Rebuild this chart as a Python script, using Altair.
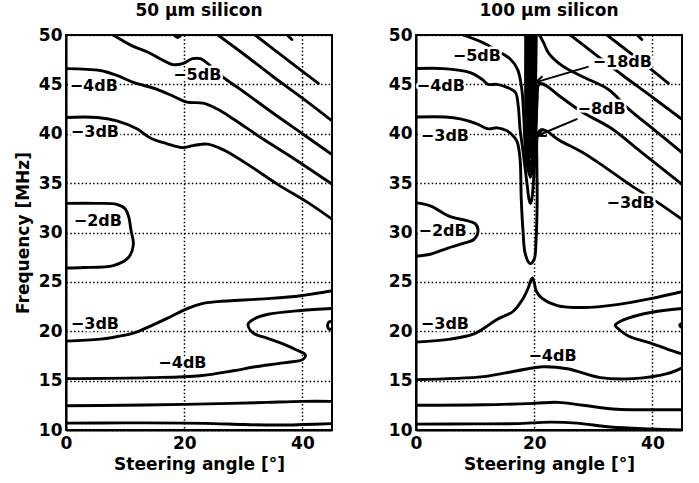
import math
import altair as alt
import pandas as pd

# Axes ranges and panel size (plot area only)
X_DOMAIN = [0, 45]
Y_DOMAIN = [10, 50]
PANEL_W, PANEL_H = 266, 395
X_TICKS = [0, 20, 40]
Y_TICKS = [10, 15, 20, 25, 30, 35, 40, 45, 50]
FONT = "DejaVu Sans"

# ---------------- 50 µm silicon: contour lines (angle [deg], frequency [MHz]) ----------------
s50_m2 = [(0, 32.95), (5, 32.95), (8.6, 32.85), (10.0, 32.4), (10.6, 31.6), (11.0, 30.2),
          (11.4, 28.8), (10.6, 27.5), (8.0, 26.65), (3.0, 26.45), (0, 26.4)]
s50_m3_hi = [(0, 41.65), (5.3, 41.65), (8.6, 41.3), (12, 40.5), (14.2, 39.6), (17, 39.0),
             (19.6, 38.6), (21.5, 38.8), (23.9, 38.95), (25.8, 38.6), (27.2, 38.2), (31, 36.8),
             (36, 34.8), (41, 33.0), (45, 31.35)]
s50_m4_hi = [(0, 46.6), (5.8, 46.4), (8.6, 45.9), (11.4, 45.2), (15.4, 44.5), (18.5, 43.7),
             (20.5, 43.2), (23.2, 43.1), (25.6, 42.5), (28.3, 41.5), (33, 39.6), (38, 37.7), (45, 34.9)]
s50_m5 = [(8, 50), (11.2, 48.9), (13.7, 48.3), (15.9, 47.6), (18.1, 47.0), (19.7, 47.1),
          (21.4, 47.6), (22.7, 47.6), (24.4, 46.9), (26.6, 45.7), (29.5, 44.5), (35, 42.1),
          (40, 40.0), (45, 37.9)]
s50_m6 = [(25.7, 50), (30, 48.1), (35, 45.8), (40, 43.6), (45, 41.3)]
s50_m7 = [(32.0, 50), (37.3, 47.55), (42.7, 45.1)]
s50_tip_a = [(18.3, 50), (18.9, 49.75), (19.5, 50)]
s50_tip_b = [(37.4, 50), (38.2, 49.55)]
s50_m3_lo = [(0, 19.0), (5.8, 19.2), (9, 19.5), (11.4, 19.8), (14.2, 20.5), (17.1, 21.3),
             (20.5, 22.3), (23, 22.8), (25.6, 23.0), (34, 23.3), (39.7, 23.6), (45, 24.1)]
s50_m4_lo = [(45, 22.3), (39.7, 22.1), (34, 21.7), (32, 21.3), (30.8, 20.7), (31.7, 19.8),
             (34, 19.3), (36.8, 18.7), (39, 18.1), (40.5, 17.6), (40.1, 17.15), (36.8, 16.8),
             (32, 16.4), (28.3, 16.0), (22.7, 15.5), (14.2, 15.3), (0, 15.2)]
s50_edge_loop = [(45, 21.0), (44.5, 20.95), (44.25, 20.6), (44.45, 20.25), (45, 20.2)]
s50_m5_lo = [(0, 12.45), (10, 12.5), (20, 12.6), (28, 12.7), (34, 12.8), (40, 12.9), (45, 12.9)]
s50_m6_lo = [(0, 10.7), (10, 10.72), (20, 10.7), (25, 10.65), (30, 10.55), (36, 10.5),
             (40, 10.55), (45, 10.65)]

# ---------------- 100 µm silicon ----------------
s100_m2 = [(0, 33.0), (2.4, 32.7), (5.8, 31.6), (8.6, 31.2), (10.0, 30.9), (10.5, 30.2),
           (9.8, 29.3), (8.0, 28.9), (5.3, 28.4), (2.4, 27.8), (0, 27.6)]
s100_m3_hi = [(0, 41.7), (5, 41.7), (7.5, 41.5), (10.3, 41.0), (12.2, 40.5), (13.7, 40.6),
              (15.4, 40.3), (16.4, 39.8), (17.1, 39.2), (17.6, 37.5), (17.8, 33.5), (18.1, 30.2),
              (18.5, 27.8), (19.3, 26.85), (20.0, 27.3), (20.3, 29.1), (20.5, 33.5), (20.45, 37.0),
              (20.55, 39.8), (21.1, 40.4), (22.0, 40.3), (24.1, 39.4), (28.2, 38.1),
              (32, 36.6), (36.3, 34.8), (41, 33.0), (45, 31.33)]
s100_m4_hi = [(0, 46.6), (4.6, 46.6), (9.2, 46.2), (11.2, 45.5), (12.2, 45.0), (13.7, 45.0),
              (15.4, 44.7), (16.8, 44.2), (17.3, 42.8), (17.6, 40.5), (18.1, 38.3), (18.5, 36.3),
              (18.85, 34.6), (19.1, 33.4), (19.35, 32.95), (19.6, 33.4), (19.8, 34.6), (20.0, 36.3),
              (20.2, 38.5), (20.35, 41), (20.5, 43.5), (20.8, 45.0), (21.9, 44.9), (24.1, 43.9),
              (28.1, 42.2), (32.9, 40.6), (38, 38.2), (45, 34.88)]
s100_m5 = [(8, 50), (11.4, 49.2), (13.7, 48.4), (15.9, 47.6), (17.2, 46.5), (17.9, 44.5),
           (18.2, 42.0), (18.45, 39.0), (18.75, 37.0), (19.35, 35.6), (19.85, 37.0), (20.05, 40.0),
           (20.2, 44.0), (20.35, 50.0)]
s100_m5_right = [(20.9, 50), (21.6, 49.2), (22.4, 48.2), (24.7, 46.9), (28.1, 45.8),
                 (32.5, 44.5), (36, 42.5), (40.5, 40.3), (45, 38.08)]
s100_m6 = [(26.1, 50), (30, 48.2), (35, 45.9), (40, 43.7), (45, 41.46)]
s100_m7 = [(32.3, 50), (37.5, 47.6), (42.7, 45.1)]
s100_tip = [(37.4, 50), (38.2, 49.55)]
# deep minima packed along the ~19 deg notch (-6 dB down to -18 dB)
s100_d6 = [(18.55, 50), (18.55, 43), (18.65, 39.5), (18.9, 37.2), (19.35, 36.2), (19.8, 37.2),
           (20.05, 39.5), (20.15, 43), (20.2, 50)]
s100_d7 = [(18.7, 50), (18.7, 42), (18.85, 39), (19.1, 37.3), (19.35, 36.8), (19.6, 37.3),
           (19.85, 39), (19.95, 42), (20.05, 50)]
s100_d8 = [(18.8, 50), (18.8, 42), (18.95, 39.2), (19.35, 37.6), (19.7, 39.2), (19.85, 42),
           (19.95, 50)]
s100_d10 = [(18.9, 50), (18.95, 42), (19.1, 39.5), (19.35, 38.5), (19.6, 39.5), (19.75, 42),
            (19.85, 50)]
s100_d12 = [(19.0, 50), (19.05, 42.5), (19.35, 39.8), (19.6, 42.5), (19.75, 50)]
s100_d14 = [(19.1, 50), (19.15, 43), (19.35, 41), (19.55, 43), (19.65, 50)]
s100_d16 = [(19.2, 50), (19.25, 44.5), (19.37, 43.0), (19.5, 44.5), (19.55, 50)]
s100_d18 = [(19.3, 50), (19.33, 46), (19.4, 45.0), (19.47, 46), (19.5, 50)]
s100_m3_lo = [(0, 18.9), (5.8, 19.2), (9.7, 19.7), (12, 20.5), (13.7, 21.2), (16.4, 22.0),
              (18.1, 23.3), (19.0, 24.4), (19.45, 25.2), (19.7, 25.4), (20.0, 24.9), (20.4, 24.0),
              (21.4, 23.3), (23.9, 22.6), (28.3, 22.4), (34, 22.7), (39.7, 23.3), (45, 24.0)]
s100_m4_loop = [(45, 22.3), (39.7, 21.9), (35.8, 21.3), (34.0, 20.8), (33.7, 20.6), (34.5, 20.1),
                (36, 19.5), (39.7, 18.8), (42.5, 18.2), (45, 17.7)]
s100_m4_lo = [(0, 15.1), (11.4, 15.4), (17.1, 16.0), (21.5, 16.4), (25.6, 16.2), (31.2, 15.3),
              (36.8, 15.2), (42.5, 15.7), (45, 16.3)]
s100_edge_loop = [(45, 20.8), (44.6, 20.6), (45, 20.35)]
s100_m5_lo = [(0, 12.5), (11.4, 12.55), (20, 12.7), (24, 12.8), (28.3, 12.5), (34, 12.1),
              (39, 12.05), (45, 12.05)]
s100_m6_lo = [(0, 10.6), (10, 10.62), (17, 10.65), (22.7, 10.8), (27.2, 10.7), (32.9, 10.3),
              (39.7, 10.1), (45, 10.0)]

# Contour labels: (text, angle, frequency)
labels_50 = [("−5dB", 22.2, 45.95), ("−4dB", 4.7, 44.8), ("−3dB", 4.9, 40.2),
             ("−2dB", 5.4, 31.2), ("−3dB", 4.9, 20.7), ("−4dB", 19.7, 16.8)]
labels_100 = [("−5dB", 10.3, 47.9), ("−4dB", 4.2, 44.8), ("−3dB", 4.9, 39.8),
              ("−2dB", 4.5, 30.15), ("−18dB", 34.9, 47.3), ("−8dB", 31.4, 42.5),
              ("−3dB", 36.3, 33.0), ("−3dB", 4.9, 20.7), ("−4dB", 23.1, 17.5)]

# Leader arrows (tail, tip) in the 100 µm panel
arrows_100 = [((29.2, 46.8), (20.2, 45.2)), ((27.3, 41.5), (20.5, 39.8))]

contours_50 = [s50_m2, s50_m3_hi, s50_m4_hi, s50_m5, s50_m6, s50_m7, s50_tip_a, s50_tip_b,
               s50_m3_lo, s50_m4_lo, s50_edge_loop, s50_m5_lo, s50_m6_lo]
contours_100 = [s100_m2, s100_m3_hi, s100_m4_hi, s100_m5, s100_m5_right, s100_m6, s100_m7,
                s100_tip, s100_d6, s100_d7, s100_d8, s100_d10, s100_d12, s100_d14, s100_d16,
                s100_d18, s100_m3_lo, s100_m4_loop, s100_m4_lo, s100_edge_loop, s100_m5_lo,
                s100_m6_lo]


def lines_frame(contours):
    rows = []
    for cid, pts in enumerate(contours):
        for i, (x, y) in enumerate(pts):
            rows.append({"cid": cid, "i": i, "x": x, "y": y})
    return pd.DataFrame(rows)


def labels_frame(labels):
    return pd.DataFrame([{"t": t, "x": x, "y": y} for t, x, y in labels])


def arrows_frames(arrows):
    shaft, head = [], []
    px_x = PANEL_W / (X_DOMAIN[1] - X_DOMAIN[0])
    px_y = PANEL_H / (Y_DOMAIN[1] - Y_DOMAIN[0])
    for k, (tail, tip) in enumerate(arrows):
        shaft.append({"cid": k, "i": 0, "x": tail[0], "y": tail[1]})
        shaft.append({"cid": k, "i": 1, "x": tip[0], "y": tip[1]})
        dx = (tip[0] - tail[0]) * px_x
        dy = -(tip[1] - tail[1]) * px_y
        ang = math.degrees(math.atan2(dx, -dy)) % 360
        head.append({"x": tip[0], "y": tip[1], "ang": ang})
    return pd.DataFrame(shaft), pd.DataFrame(head)


def enc_xy(y_title):
    x = alt.X("x:Q", scale=alt.Scale(domain=X_DOMAIN, nice=False, zero=False),
              axis=alt.Axis(values=X_TICKS, title="Steering angle [°]"))
    y = alt.Y("y:Q", scale=alt.Scale(domain=Y_DOMAIN, nice=False, zero=False),
              axis=alt.Axis(values=Y_TICKS, title=y_title))
    return x, y


def panel(contours, labels, arrows, title, y_title):
    x, y = enc_xy(y_title)
    lines = alt.Chart(lines_frame(contours)).mark_line(
        color="black", strokeWidth=2.9, interpolate="catmull-rom", clip=True,
        strokeJoin="round", strokeCap="round"
    ).encode(x=x, y=y, detail="cid:N", order="i:Q")

    lab = labels_frame(labels)
    halo = alt.Chart(lab).mark_text(
        font=FONT, fontSize=16, fontWeight="bold", color="white",
        stroke="white", strokeWidth=5, strokeJoin="round"
    ).encode(x=x, y=y, text="t:N")
    text = alt.Chart(lab).mark_text(
        font=FONT, fontSize=16, fontWeight="bold", color="black"
    ).encode(x=x, y=y, text="t:N")

    layers = [lines, halo, text]
    if arrows:
        shaft_df, head_df = arrows_frames(arrows)
        shaft = alt.Chart(shaft_df).mark_line(color="black", strokeWidth=2).encode(
            x=x, y=y, detail="cid:N", order="i:Q")
        head = alt.Chart(head_df).mark_point(
            shape="M -0.45 1 L 0 0 L 0.45 1", filled=False, color="black",
            strokeWidth=2, size=300, opacity=1
        ).encode(x=x, y=y, angle=alt.Angle("ang:Q", scale=None))
        layers += [shaft, head]

    return alt.layer(*layers).properties(
        width=PANEL_W, height=PANEL_H,
        title=alt.TitleParams(title, font=FONT, fontSize=17, fontWeight="bold",
                              color="black", offset=6, anchor="middle"),
    )


left = panel(contours_50, labels_50, None, "50 μm silicon", "Frequency [MHz]")
right = panel(contours_100, labels_100, arrows_100, "100 μm silicon", "")

chart = alt.hconcat(left, right, spacing=84, bounds="flush").properties(
    padding={"left": 13, "top": 1, "right": 5, "bottom": 5},
).configure_view(
    stroke="black", strokeWidth=2
).configure_axis(
    labelFont=FONT, labelFontSize=17, labelFontWeight="bold", labelColor="black",
    titleFont=FONT, titleFontSize=17, titleFontWeight="bold", titleColor="black",
    ticks=False, labelPadding=4, domain=True, domainColor="black", domainWidth=2,
    grid=True, gridColor="black", gridOpacity=1, gridWidth=1.5, gridDash=[1.5, 2.3],
    labelFlush=False, labelOverlap=False, zindex=1,
).configure_axisX(
    labelPadding=5, titlePadding=5
).configure_axisY(
    titlePadding=6
)

chart.save("out.html", embed_options={"renderer": "svg", "actions": False})
